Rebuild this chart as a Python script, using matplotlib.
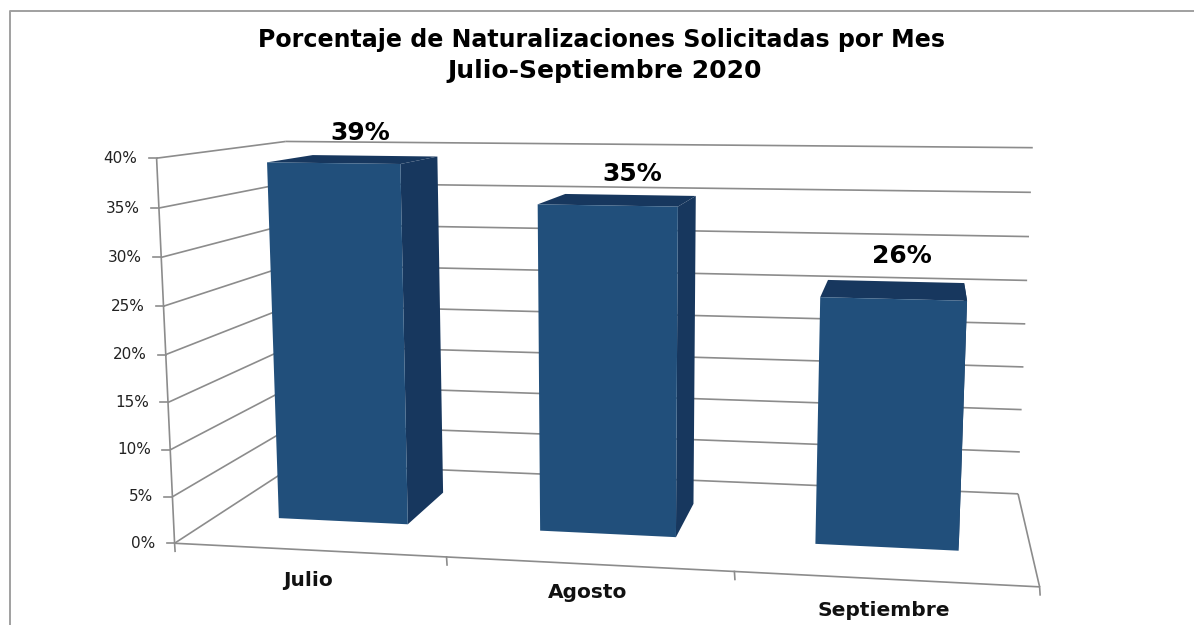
import numpy as np
import matplotlib
matplotlib.use('Agg')
import matplotlib.pyplot as plt

title_lines = ['Porcentaje de Naturalizaciones Solicitadas por Mes', 'Julio-Septiembre 2020']
months = ['Julio', 'Agosto', 'Septiembre']
values = [39, 35, 26]
y_ticks = [0, 5, 10, 15, 20, 25, 30, 35, 40]

FRONT = '#214F7B'
DARK = '#17375E'
GRID = '#8C8C8C'
W0, W1 = 0.27, 0.73
U = [(1/12., 3/12.), (5/12., 7/12.), (9/12., 11/12.)]

# (u, value, depth) -> pixel anchors, used to fit the perspective
wall_anchors = [
    (0, 40, 0, 157, 158), (0, 35, 0, 159, 208), (0, 30, 0, 161, 257), (0, 25, 0, 164, 306),
    (0, 10, 0, 170, 449), (0, 5, 0, 173, 497), (0, 0, 0, 174, 543),
    (0, 40, 1, 285, 142), (0, 0, 1, 297, 464),
    (1, 40, 1, 1033, 148), (1, 35, 1, 1031, 192), (1, 30, 1, 1029, 237), (1, 25, 1, 1027, 280),
    (1, 5, 1, 1020, 452), (1, 0, 1, 1018, 493),
    (1, 0, 0, 1039, 586), (1/3., 0, 0, 446, 557), (2/3., 0, 0, 735, 574),
]
bar_anchors = [
    (U[0][0], 39, W0, 267, 162), (U[0][1], 39, W0, 400, 163),
    (U[0][0], 0, W0, 279, 518), (U[0][1], 0, W0, 408, 524),
    (U[0][0], 39, W1, 313, 154), (U[0][1], 39, W1, 438, 155), (U[0][1], 0, W1, 443, 492),
    (U[1][0], 35, W0, 537, 207), (U[1][1], 35, W0, 678, 208),
    (U[1][0], 0, W0, 540, 531), (U[1][1], 0, W0, 676, 537),
    (U[1][0], 35, W1, 565, 196), (U[1][1], 35, W1, 695, 198), (U[1][1], 0, W1, 693, 505),
    (U[2][0], 26, W0, 821, 296), (U[2][1], 26, W0, 967, 299),
    (U[2][0], 0, W0, 816, 544), (U[2][1], 0, W0, 958, 551),
    (U[2][0], 26, W1, 829, 279), (U[2][1], 26, W1, 964, 282),
]


def fit_projection(pts):
    rows = []
    for u, v, w, x, y in pts:
        p = [u, v / 40., w, 1]
        rows.append(p + [0, 0, 0, 0] + [-x * c for c in p])
        rows.append([0, 0, 0, 0] + p + [-y * c for c in p])
    a = np.array(rows, dtype=float)
    scale = np.array([1000.] * 4 + [1000.] * 4 + [1.] * 4)
    _, _, vt = np.linalg.svd(a * scale)
    return (vt[-1] * scale).reshape(3, 4)


P_wall = fit_projection(wall_anchors)
P_bar = fit_projection(bar_anchors)


def proj(u, v, w, P=P_wall):
    q = P.dot([u, v / 40., w, 1])
    return q[0] / q[2], q[1] / q[2]


def seg(a, b, **kw):
    pa, pb = proj(*a), proj(*b)
    ax.plot([pa[0], pb[0]], [pa[1], pb[1]], color=GRID, lw=1.2, solid_capstyle='butt', **kw)


fig = plt.figure(figsize=(11.94, 6.25), dpi=100)
ax = fig.add_axes([0, 0, 1, 1])
ax.set_xlim(0, 1194)
ax.set_ylim(625, 0)
ax.axis('off')

# outer frame of the chart area
ax.plot([10, 10, 1194], [625, 11, 11], color='#A0A0A0', lw=1.4)

# walls and gridlines
for t in y_ticks:
    seg((0, t, 0), (0, t, 1), zorder=1)
    seg((0, t, 1), (1, t, 1), zorder=1)
    x, y = proj(0, t, 0)
    ax.plot([x - 8, x], [y, y], color=GRID, lw=1.2, zorder=1)
    ax.text(x - 19, y, '%d%%' % t, ha='right', va='center', fontsize=11, color='#222222')
seg((0, 0, 0), (0, 40, 0), zorder=1)
seg((0, 0, 0), (1, 0, 0), zorder=1)
seg((1, 0, 0), (1, 0, 1), zorder=1)

# category ticks under the floor front edge
for i in range(4):
    x, y = proj(i / 3., 0, 0)
    ax.plot([x, x + 0.5], [y, y + 8], color=GRID, lw=1.2, zorder=1)

# bars
for (u0, u1), val in zip(U, values):
    side = [proj(u1, 0, W0, P_bar), proj(u1, 0, W1, P_bar), proj(u1, val, W1, P_bar), proj(u1, val, W0, P_bar)]
    top = [proj(u0, val, W0, P_bar), proj(u1, val, W0, P_bar), proj(u1, val, W1, P_bar), proj(u0, val, W1, P_bar)]
    front = [proj(u0, 0, W0, P_bar), proj(u1, 0, W0, P_bar), proj(u1, val, W0, P_bar), proj(u0, val, W0, P_bar)]
    ax.fill(*zip(*side), color=DARK, lw=0, zorder=2)
    ax.fill(*zip(*top), color=DARK, lw=0, zorder=3)
    ax.fill(*zip(*front), color=FRONT, lw=0, zorder=4)

# texts
ax.text(601, 40, title_lines[0], ha='center', va='center', fontsize=17.1, fontweight='bold', color='black')
ax.text(605, 71, title_lines[1], ha='center', va='center', fontsize=18, fontweight='bold', color='black')
label_xy = [(360, 133), (632, 174), (902, 256)]
for (x, y), val in zip(label_xy, values):
    ax.text(x, y, '%d%%' % val, ha='center', va='center', fontsize=18, fontweight='bold',
            color='black', zorder=5)
month_xy = [(308, 580), (588, 593), (884, 611)]
for (x, y), m in zip(month_xy, months):
    ax.text(x, y, m, ha='center', va='center', fontsize=14.5, fontweight='bold', color='#111111')

plt.savefig('out.png', dpi=100)
